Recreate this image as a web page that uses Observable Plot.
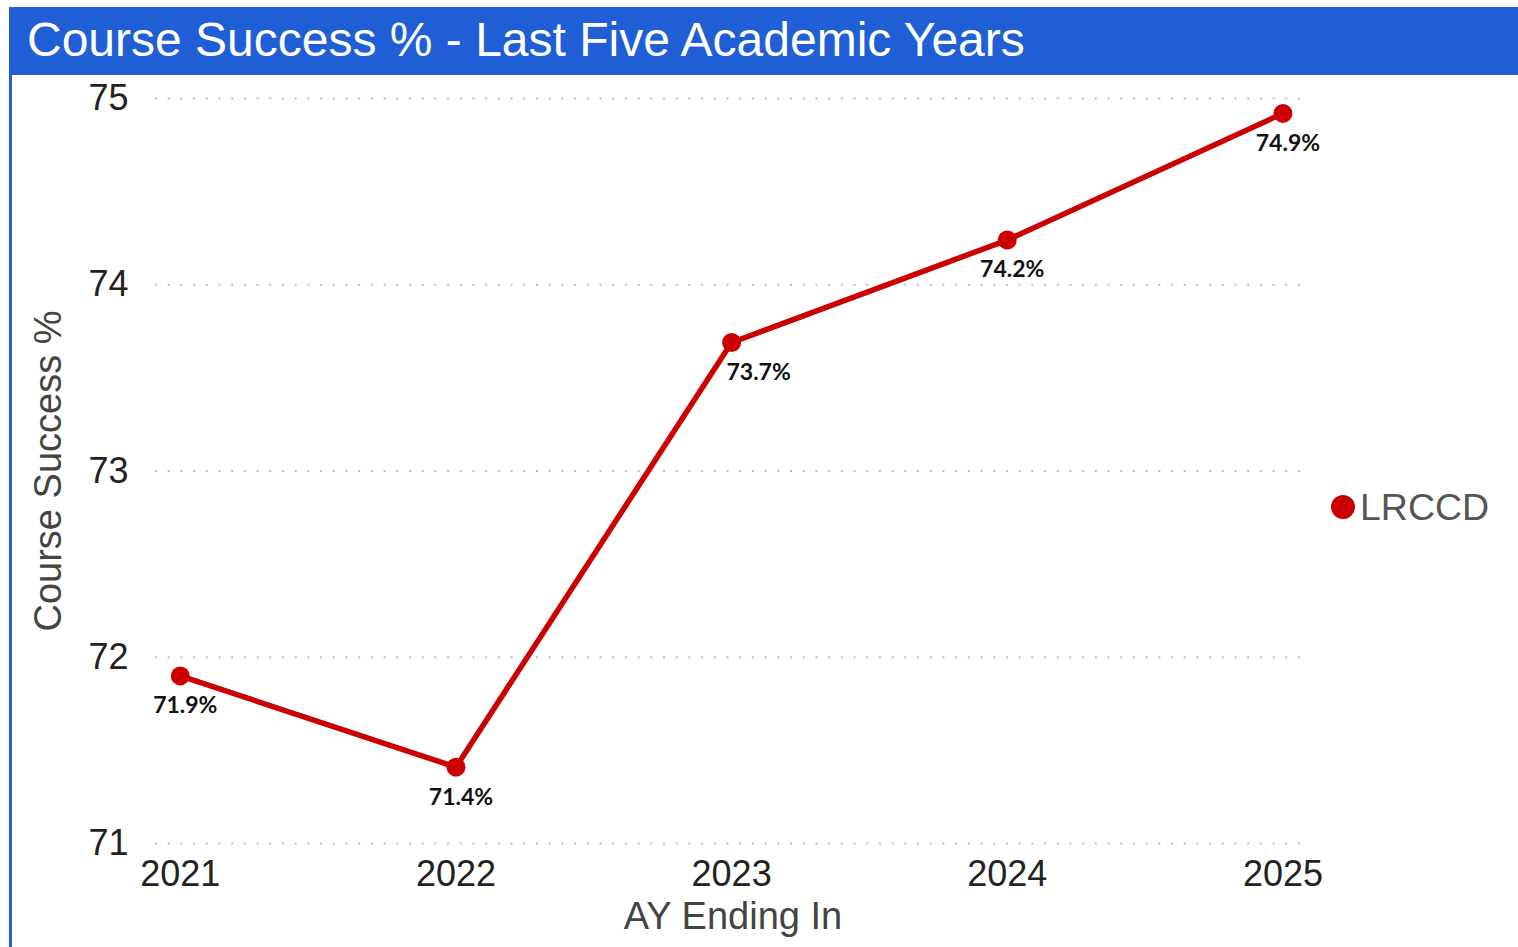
<!DOCTYPE html>
<html><head><meta charset="utf-8">
<script src="https://cdn.jsdelivr.net/npm/d3@7"></script>
<script src="https://cdn.jsdelivr.net/npm/@observablehq/plot@0.6"></script>
<style>
html,body{margin:0;padding:0;background:#fff}
body{width:1518px;height:947px;position:relative;overflow:hidden;font-family:"Liberation Sans",Arial,sans-serif}
#edge{position:absolute;left:9px;top:7px;width:3px;height:940px;background:#2a5ed4}
#title{position:absolute;left:10px;top:7px;width:1508px;height:68px;background:#205ed6;color:#fff;font-size:48px;line-height:66px;padding-left:17px;box-sizing:border-box;border-top-left-radius:4px;white-space:nowrap}
#chart{position:absolute;left:0;top:75px}
#legend{position:absolute;left:1331px;top:487px;height:40px;display:flex;align-items:center;gap:5px;font-size:37.5px;color:#555}
#legend .sw{width:24px;height:24px;border-radius:50%;background:#cc0000}
</style></head>
<body>
<div id="edge"></div>
<div id="title">Course Success % - Last Five Academic Years</div>
<div id="chart"></div>
<div id="legend"><span class="sw"></span><span id="legname"></span></div>
<script>
const years = [2021, 2022, 2023, 2024, 2025];
const success = [71.9, 71.41, 73.69, 74.24, 74.92];
const pointLabels = ["71.9%", "71.4%", "73.7%", "74.2%", "74.9%"];
const yTicks = [71, 72, 73, 74, 75];
const seriesName = "LRCCD";
const xTitle = "AY Ending In";
const yTitle = "Course Success %";

const data = years.map((y, i) => ({year: y, value: success[i], label: pointLabels[i]}));
document.getElementById("legname").textContent = seriesName;

const labelStyle = {x: "year", y: "value", text: "label", dy: 30, fontSize: 23, fontWeight: "bold", fontFamily: "Lato", fill: "#111"};

const chart = Plot.plot({
  width: 1518,
  height: 872,
  marginTop: 23,
  marginBottom: 104,
  marginLeft: 155,
  marginRight: 208,
  style: {fontFamily: "Liberation Sans, Arial, sans-serif", background: "transparent"},
  x: {domain: [2020.91, 2025.1]},
  y: {domain: [71, 75]},
  marks: [
    Plot.gridY(yTicks, {stroke: "#bdbdbd", strokeOpacity: 1, strokeWidth: 2, strokeDasharray: "2,10.7"}),
    Plot.axisY(yTicks, {tickSize: 0, tickPadding: 27, fontSize: 36, fill: "#222", label: null, tickFormat: d => String(d)}),
    Plot.axisX(years, {tickSize: 0, tickPadding: 17, fontSize: 36, fill: "#222", label: null, tickFormat: d => String(d)}),
    Plot.line(data, {x: "year", y: "value", stroke: "#cc0000", strokeWidth: 5.5}),
    Plot.dot(data, {x: "year", y: "value", r: 9.5, fill: "#cc0000"}),
    Plot.text(data, {...labelStyle, filter: d => d.year !== 2023, dx: 5}),
    Plot.text(data, {...labelStyle, filter: d => d.year === 2023, dx: 27}),
    Plot.text([xTitle], {text: d => d, frameAnchor: "bottom", lineAnchor: "middle", textAnchor: "middle", dy: 73, fontSize: 38, fill: "#444"}),
    Plot.text([yTitle], {text: d => d, frameAnchor: "left", lineAnchor: "middle", textAnchor: "middle", rotate: -90, dx: -107, fontSize: 38, fill: "#444"})
  ]
});
document.getElementById("chart").appendChild(chart);
</script>
</body></html>
